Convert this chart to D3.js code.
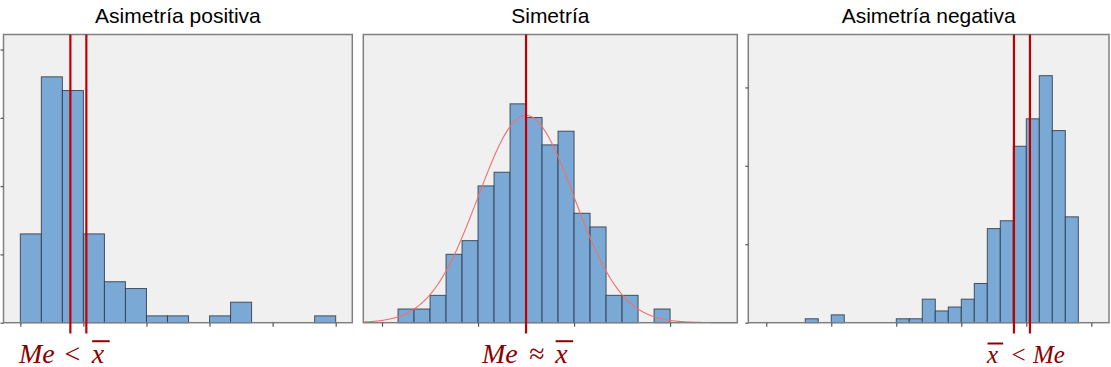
<!DOCTYPE html>
<html><head><meta charset="utf-8">
<script src="https://cdn.jsdelivr.net/npm/d3@7"></script>
<style>body{margin:0;background:#fff;} svg{display:block;}</style>
</head><body>
<svg id="chart" width="1111" height="367"></svg>
<script>
// ---------------- data ----------------
const titles = ["Asimetría positiva", "Simetría", "Asimetría negativa"];

// Positive skew (bin index units, bin width 1)
const posCounts = [13, 36, 34, 13, 6, 5, 1, 1, 0, 1, 3, 0, 0, 0, 1];
const posFirstBin = 0;
const posXDomain = [-0.8, 15.79];
const posYDomain = [0, 42.2];
const posXTicks = [0, 3, 6, 9, 12, 15];
const posYTicks = [0, 10, 20, 30, 40];
const posMedian = 2.38, posMean = 3.14;

// Symmetric
const symCounts = [1, 1, 2, 5, 6, 10, 11, 16, 15, 13, 14, 8, 7, 2, 2, 0, 1];
const symFirstBin = 1;
const symXDomain = [-1.17, 22.2];
const symYDomain = [0, 21.07];
const symXTicks = [0, 6, 12, 18];
const symYTicks = [];
const symMean = 9.0, symMedian = 9.0, symSD = 3.0;

// Negative skew
const negCounts = [1, 0, 2, 0, 0, 0, 0, 1, 1, 6, 3, 4, 6, 10, 24, 26, 45, 52, 63, 49, 27];
const negFirstBin = 3;
const negXDomain = [-1.38, 26.36];
const negYDomain = [0, 73.5];
const negXTicks = [0, 5, 10, 15, 20, 25];
const negYTicks = [0, 20, 40, 60];
const negMean = 19.05, negMedian = 20.28;

// bottom formula labels
const label1Tokens = ["Me", "<", "x"];
const label2Tokens = ["Me", "≈", "x"];
const label3Tokens = ["x", "<", "Me"];
const overlinedToken = "x";

// ---------------- layout ----------------
const svg = d3.select("#chart");
const plotTop = 34.5, plotBottom = 322.7;
const boxes = [
  {x0: 3.5, x1: 352.3},
  {x0: 363.3, x1: 737.3},
  {x0: 748.3, x1: 1109}
];
const panels = [
  {counts: posCounts, first: posFirstBin, xd: posXDomain, yd: posYDomain, xt: posXTicks, yt: posYTicks, lines: [posMedian, posMean]},
  {counts: symCounts, first: symFirstBin, xd: symXDomain, yd: symYDomain, xt: symXTicks, yt: symYTicks, lines: [symMean], curve: {m: symMean, s: symSD}},
  {counts: negCounts, first: negFirstBin, xd: negXDomain, yd: negYDomain, xt: negXTicks, yt: negYTicks, lines: [negMean, negMedian]}
];

const barFill = "#7aa9d6", barStroke = "#2f3a46", frameCol = "#808080", redCol = "#c00000", labCol = "#8b0000";

panels.forEach((p, i) => {
  const b = boxes[i];
  const x = d3.scaleLinear().domain(p.xd).range([b.x0, b.x1]);
  const y = d3.scaleLinear().domain(p.yd).range([plotBottom, plotTop]);
  const g = svg.append("g");

  g.append("rect").attr("x", b.x0).attr("y", plotTop).attr("width", b.x1 - b.x0).attr("height", plotBottom - plotTop)
    .attr("fill", "#f0f0f0");

  // bars
  const bins = p.counts.map((c, k) => ({x0: p.first + k, x1: p.first + k + 1, c}));
  g.selectAll("rect.bar").data(bins.filter(d => d.c > 0)).join("rect").attr("class", "bar")
    .attr("x", d => x(d.x0)).attr("width", d => x(d.x1) - x(d.x0))
    .attr("y", d => y(d.c)).attr("height", d => y(0) - y(d.c))
    .attr("fill", barFill).attr("stroke", barStroke).attr("stroke-opacity", 0.85).attr("stroke-width", 1);

  // normal curve
  if (p.curve) {
    const N = d3.sum(p.counts);
    const f = v => N / (p.curve.s * Math.sqrt(2 * Math.PI)) * Math.exp(-0.5 * Math.pow((v - p.curve.m) / p.curve.s, 2));
    const pts = d3.range(p.xd[0], p.xd[1] + 0.001, (p.xd[1] - p.xd[0]) / 300).map(v => [v, f(v)]);
    g.append("path").datum(pts)
      .attr("d", d3.line().x(d => x(d[0])).y(d => y(d[1])).curve(d3.curveBasis))
      .attr("fill", "none").attr("stroke", "#f07070").attr("stroke-width", 1.1);
  }

  // frame
  g.append("rect").attr("x", b.x0).attr("y", plotTop).attr("width", b.x1 - b.x0).attr("height", plotBottom - plotTop)
    .attr("fill", "none").attr("stroke", frameCol).attr("stroke-width", 1.5);

  // x axis ticks
  const xa = g.append("g").attr("transform", `translate(0,${plotBottom})`)
    .call(d3.axisBottom(x).tickValues(p.xt).tickSize(4).tickFormat(""));
  xa.select(".domain").remove();
  xa.selectAll("line").attr("stroke", "#555").attr("stroke-width", 1.2);

  // y axis ticks
  if (p.yt.length) {
    const ya = g.append("g").attr("transform", `translate(${b.x0},0)`)
      .call(d3.axisLeft(y).tickValues(p.yt).tickSize(3).tickFormat(""));
    ya.select(".domain").remove();
    ya.selectAll("line").attr("stroke", "#555").attr("stroke-width", 1.2);
  }

  // red lines
  p.lines.forEach(v => {
    g.append("line").attr("x1", x(v)).attr("x2", x(v)).attr("y1", plotTop).attr("y2", 333.5)
      .attr("stroke", redCol).attr("stroke-width", 2.2);
  });

  // title
  svg.append("text").attr("x", (b.x0 + b.x1) / 2).attr("y", 22.7)
    .attr("text-anchor", "middle").attr("font-family", "Liberation Sans, Arial, sans-serif")
    .attr("font-size", 21).attr("fill", "#000").text(titles[i]);
});

// bottom labels: token list, start x, font size, gaps (in px) before each token
const labelSpecs = [
  {tokens: label1Tokens, x: 19, fs: 28, gaps: [0, 8, 10]},
  {tokens: label2Tokens, x: 482, fs: 28, gaps: [0, 11, 11]},
  {tokens: label3Tokens, x: 987, fs: 25, gaps: [0, 12, 6]}
];
const baseY = 362.5;
labelSpecs.forEach(spec => {
  const t = svg.append("text").attr("x", spec.x).attr("y", baseY)
    .attr("font-family", "Liberation Serif, Times New Roman, serif").attr("font-style", "italic")
    .attr("font-size", spec.fs).attr("fill", labCol);
  spec.tokens.forEach((tok, k) => {
    t.append("tspan").attr("dx", spec.gaps[k]).text(tok);
  });
  const s = spec.tokens.join("");
  const idx = s.indexOf(overlinedToken);
  const sp = t.node().getStartPositionOfChar(idx);
  const ep = t.node().getEndPositionOfChar(idx);
  svg.append("line").attr("x1", sp.x + 0.5).attr("x2", ep.x + spec.fs * 0.2)
    .attr("y1", baseY - spec.fs * 0.76).attr("y2", baseY - spec.fs * 0.76)
    .attr("stroke", labCol).attr("stroke-width", 2);
});
</script>
</body></html>
